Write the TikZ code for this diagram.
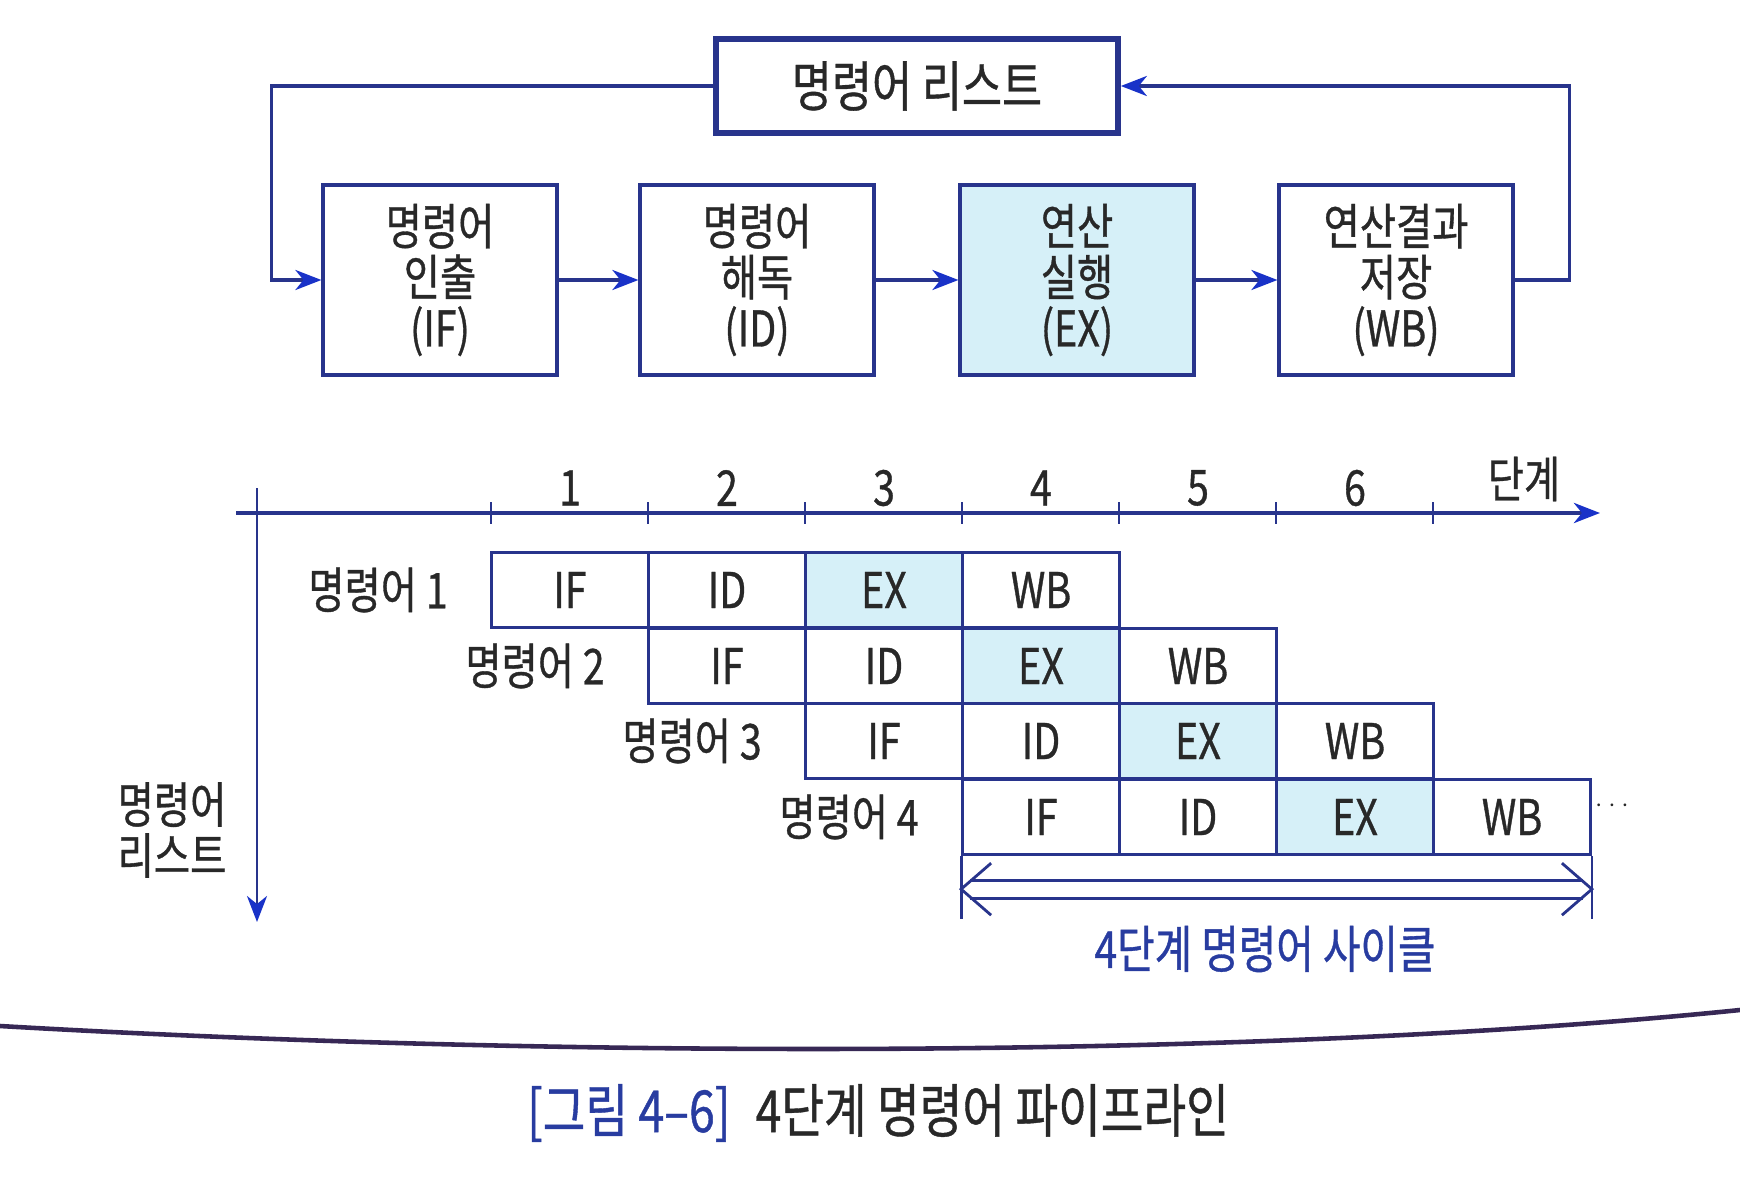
\documentclass[tikz,border=0pt]{standalone}
\usepackage{fontspec}
\setmainfont[FakeStretch=0.8, FakeBold=0.7]{Noto Sans CJK KR}
\usetikzlibrary{arrows.meta,positioning}
\definecolor{lineblue}{RGB}{40,52,140}
\definecolor{tipblue}{RGB}{25,50,200}
\definecolor{exfill}{RGB}{214,240,248}
\definecolor{textgray}{RGB}{40,40,40}
\definecolor{capblue}{RGB}{40,60,160}
\definecolor{curvepurple}{RGB}{55,40,85}
\begin{document}
\begin{tikzpicture}[x=0.1mm, y=-0.1mm, font=\fontsize{14}{14.5}\selectfont, text=textgray]

      \tikzset{stage/.style={draw=lineblue, line width=0.9pt, minimum width=23.4mm, minimum height=19mm, align=center},
               cell/.style={draw=lineblue, line width=0.8pt, minimum width=15.7mm, minimum height=7.55mm, inner sep=0pt},
               flow/.style={draw=lineblue, line width=1pt, -{Stealth[length=2.6mm, width=2mm, inset=0.8mm, color=tipblue]}},
               axisline/.style={draw=lineblue, -{Stealth[length=2.6mm, width=2mm, inset=0.8mm, color=tipblue]}},
               cyclearrow/.style={draw=lineblue, line width=0.8pt, double=white, double distance=4.3pt, shorten <=0.9mm, shorten >=0.9mm},
               cycleline/.style={draw=lineblue, line width=0.8pt, line join=miter}}
      \useasboundingbox (0,0) rectangle (1740,1180);
      \fill[white] (0,0) rectangle (1740,1180);
%% Stages
      \node[stage, line width=1.6pt, minimum width=40.2mm, minimum height=9.4mm, font=\fontsize{15.5}{16}\selectfont] (list) at (917,86) {명령어 리스트};
      \node[stage] (IF) at (440,280) {명령어\\인출\\(IF)};
      \node[stage] (ID) at (757,280) {명령어\\해독\\(ID)};
      \node[stage, fill=exfill] (EX) at (1077,280) {연산\\실행\\(EX)};
      \node[stage] (WB) at (1396,280) {연산결과\\저장\\(WB)};
%Flow
      \draw[flow] (IF) -- (ID);
      \draw[flow] (ID) -- (EX);
      \draw[flow] (EX) -- (WB);
      \draw[flow] (list.west) -| ([xshift=-5mm]IF.west) -- (IF.west);
      \draw[flow] (WB.east) -- ([xshift=5.5mm]WB.east) |- (list.east);

%% Axes
      \coordinate (h0) at (236,513);
      \coordinate (h1) at (1600,513);
      \coordinate (v0) at (257,488);
      \coordinate (v1) at (257,922);
      \draw[axisline, line width=1.3pt] (h0) -- (h1);
      \draw[axisline, line width=0.8pt] (v0) -- (v1);
      \draw[lineblue, line width=0.7pt] (491,502) -- (491,524) (648,502) -- (648,524) (805,502) -- (805,524)
            (962,502) -- (962,524) (1119,502) -- (1119,524) (1276,502) -- (1276,524) (1433,502) -- (1433,524);
      \node (n1) at (570,488) {1};
      \node (n2) at (727,488) {2};
      \node (n3) at (884,488) {3};
      \node (n4) at (1041,488) {4};
      \node (n5) at (1198,488) {5};
      \node (n6) at (1355,488) {6};
      \node (steps) at (1524,479) {단계};
      \node[align=center] (vlbl) at (172,830) {명령어\\리스트};

%% Pipeline
      \node[cell] (r1if) at (570,590) {IF};
      \node[cell] (r1id) at (727,590) {ID};
      \node[cell, fill=exfill] (r1ex) at (884,590) {EX};
      \node[cell] (r1wb) at (1041,590) {WB};
      \node[cell] (r2if) at (727,666) {IF};
      \node[cell] (r2id) at (884,666) {ID};
      \node[cell, fill=exfill] (r2ex) at (1041,666) {EX};
      \node[cell] (r2wb) at (1198,666) {WB};
      \node[cell] (r3if) at (884,741) {IF};
      \node[cell] (r3id) at (1041,741) {ID};
      \node[cell, fill=exfill] (r3ex) at (1198,741) {EX};
      \node[cell] (r3wb) at (1355,741) {WB};
      \node[cell] (r4if) at (1041,817) {IF};
      \node[cell] (r4id) at (1198,817) {ID};
      \node[cell, fill=exfill] (r4ex) at (1355,817) {EX};
      \node[cell] (r4wb) at (1512,817) {WB};
      \node[left=3mm of r1if] (l1) {명령어 1};
      \node[left=3mm of r2if] (l2) {명령어 2};
      \node[left=3mm of r3if] (l3) {명령어 3};
      \node[left=3mm of r4if] (l4) {명령어 4};
      \node (more) at (1612,806) {\scriptsize$\cdots$};
%Cycle
      \coordinate (ca) at ([yshift=-3.3mm]r4if.south west);
      \coordinate (cb) at ([yshift=-3.3mm]r4wb.south east);
      \draw[cycleline] (r4if.south west) -- ++(0,-6.3mm);
      \draw[cycleline] (r4wb.south east) -- ++(0,-6.3mm);
      \draw[cyclearrow] (ca) -- (cb);
      \draw[cycleline] ([xshift=3mm,yshift=2.6mm]ca) -- (ca) -- ([xshift=3mm,yshift=-2.6mm]ca);
      \draw[cycleline] ([xshift=-3mm,yshift=2.6mm]cb) -- (cb) -- ([xshift=-3mm,yshift=-2.6mm]cb);
      \node[text=capblue, font=\fontsize{14.5}{16}\selectfont] (cyclbl) at (1265,949) {4단계 명령어 사이클};

%% Caption
      \draw[curvepurple, line width=1.3pt] (0,1026) .. controls (550,1058) and (1250,1060) .. (1740,1010);
      \node[font=\fontsize{16.5}{18}\selectfont] (cap) at (878,1113) {\textcolor{capblue}{[그림 4–6]}\hspace{2.5mm}4단계 명령어 파이프라인};

	\end{tikzpicture}
\end{document}
